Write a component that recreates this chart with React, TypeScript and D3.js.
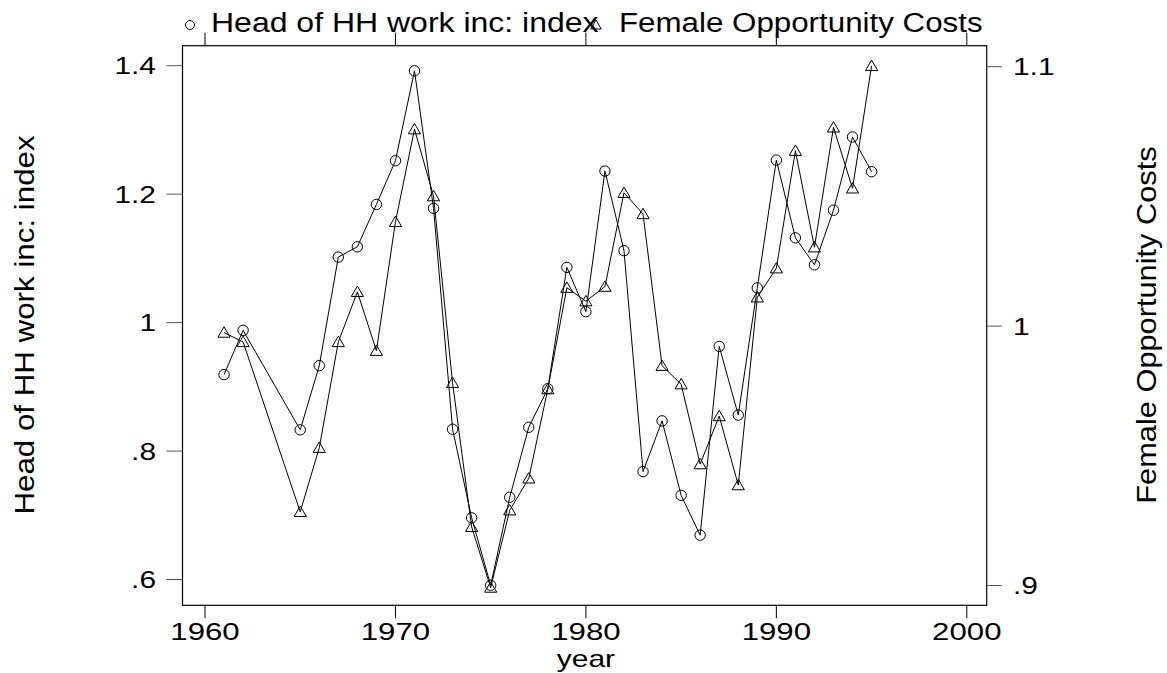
import React from "react";
import * as d3 from "d3";

const years = [1961, 1962, 1965, 1966, 1967, 1968, 1969, 1970, 1971, 1972, 1973, 1974, 1975, 1976, 1977, 1978, 1979, 1980, 1981, 1982, 1983, 1984, 1985, 1986, 1987, 1988, 1989, 1990, 1991, 1992, 1993, 1994, 1995];
const headIncome = [0.919, 0.988, 0.833, 0.933, 1.102, 1.118, 1.184, 1.252, 1.392, 1.178, 0.834, 0.696, 0.591, 0.728, 0.837, 0.897, 1.086, 1.017, 1.236, 1.112, 0.768, 0.847, 0.731, 0.669, 0.963, 0.856, 1.054, 1.253, 1.132, 1.09, 1.175, 1.289, 1.235];
const femaleCosts = [0.9975, 0.9939, 0.9284, 0.9531, 0.9939, 1.0132, 0.9905, 1.0402, 1.0759, 1.0501, 0.9781, 0.9226, 0.8992, 0.929, 0.9413, 0.9757, 1.0148, 1.0096, 1.0152, 1.0514, 1.0432, 0.9847, 0.9776, 0.9468, 0.9653, 0.9387, 1.0111, 1.0223, 1.0676, 1.0304, 1.0766, 1.0531, 1.1003];
const xTicks = [1960, 1970, 1980, 1990, 2000];
const leftTicks = [0.6, 0.8, 1, 1.2, 1.4];
const leftTickLabels = [".6", ".8", "1", "1.2", "1.4"];
const rightTicks = [0.9, 1, 1.1];
const rightTickLabels = [".9", "1", "1.1"];
const leftTitle = "Head of HH work inc: index";
const rightTitle = "Female Opportunity Costs";
const xTitle = "year";

const FONT = "'Liberation Sans', Arial, Helvetica, sans-serif";

export default function App() {
  const W = 1167, H = 673;
  const frame = { l: 182.5, r: 986.7, t: 45.7, b: 605.3 };
  const x = d3.scaleLinear().domain([1960, 2000]).range([205, 966.8]);
  const yL = d3.scaleLinear().domain([0.6, 1.4]).range([579.5, 65.7]);
  const yR = d3.scaleLinear().domain([0.9, 1.1]).range([585.5, 66.7]);

  const lineL = d3.line<number>().x((_, i) => x(years[i])).y((d) => yL(d));
  const lineR = d3.line<number>().x((_, i) => x(years[i])).y((d) => yR(d));

  const tri = (cx: number, cy: number, s = 5.8) =>
    `M${cx},${cy - s}L${cx + s * 1.05},${cy + s * 0.8}L${cx - s * 1.05},${cy + s * 0.8}Z`;

  const sx = 1.3;
  const txt = (
    key: string,
    tx: number,
    ty: number,
    s: string,
    anchor: "start" | "middle" | "end",
    size: number,
    stretch: number,
    rot = 0
  ) => (
    <text
      key={key}
      transform={`translate(${tx},${ty})${rot ? ` rotate(${rot})` : ""} scale(${stretch},1)`}
      textAnchor={anchor}
      fontSize={size}
      fontFamily={FONT}
      fill="#000"
    >
      {s}
    </text>
  );

  return (
    <svg width={W} height={H} style={{ position: "absolute", left: 0, top: 0, background: "#fff" }}>
      <rect x={0} y={0} width={W} height={H} fill="#fff" />
      {/* legend */}
      <circle cx={190} cy={25} r={4.5} fill="none" stroke="#000" strokeWidth={1} />
      {txt("lg1", 211, 32, leftTitle, "start", 27, 1.185)}
      <path d={tri(596, 25, 5)} fill="none" stroke="#000" strokeWidth={1} />
      {txt("lg2", 619, 32, rightTitle, "start", 27, 1.16)}

      {/* frame */}
      <rect x={frame.l} y={frame.t} width={frame.r - frame.l} height={frame.b - frame.t} fill="none" stroke="#000" strokeWidth={1.2} />

      {/* x ticks bottom and top */}
      {xTicks.map((t) => (
        <g key={"xt" + t}>
          <line x1={x(t)} x2={x(t)} y1={frame.b} y2={frame.b + 13} stroke="#000" strokeWidth={1} />
          <line x1={x(t)} x2={x(t)} y1={frame.t} y2={frame.t - 13} stroke="#000" strokeWidth={1} />
          {txt("xl" + t, x(t), 640, String(t), "middle", 24, sx)}
        </g>
      ))}
      {txt("xtitle", x(1980), 667, xTitle, "middle", 24, 1.25)}

      {/* left ticks */}
      {leftTicks.map((t, i) => (
        <g key={"lt" + t}>
          <line x1={frame.l - 16} x2={frame.l} y1={yL(t)} y2={yL(t)} stroke="#555" strokeWidth={1} />
          {txt("ll" + t, 156, yL(t) + 8.5, leftTickLabels[i], "end", 23, sx)}
        </g>
      ))}
      {txt("ltitle", 34, 325, leftTitle, "middle", 27, 1.16, -90)}

      {/* right ticks */}
      {rightTicks.map((t, i) => (
        <g key={"rt" + t}>
          <line x1={frame.r} x2={frame.r + 15} y1={yR(t)} y2={yR(t)} stroke="#555" strokeWidth={1} />
          {txt("rl" + t, 1013, yR(t) + 8.5, rightTickLabels[i], "start", 23, sx)}
        </g>
      ))}
      {txt("rtitle", 1156, 325, rightTitle, "middle", 27, 1.14, -90)}

      {/* series */}
      <path d={lineL(headIncome) || ""} fill="none" stroke="#000" strokeWidth={1} />
      <path d={lineR(femaleCosts) || ""} fill="none" stroke="#000" strokeWidth={1} />
      {headIncome.map((v, i) => (
        <circle key={"c" + i} cx={x(years[i])} cy={yL(v)} r={5.2} fill="none" stroke="#000" strokeWidth={1} />
      ))}
      {femaleCosts.map((v, i) => (
        <path key={"t" + i} d={tri(x(years[i]), yR(v))} fill="none" stroke="#000" strokeWidth={1} />
      ))}
    </svg>
  );
}
